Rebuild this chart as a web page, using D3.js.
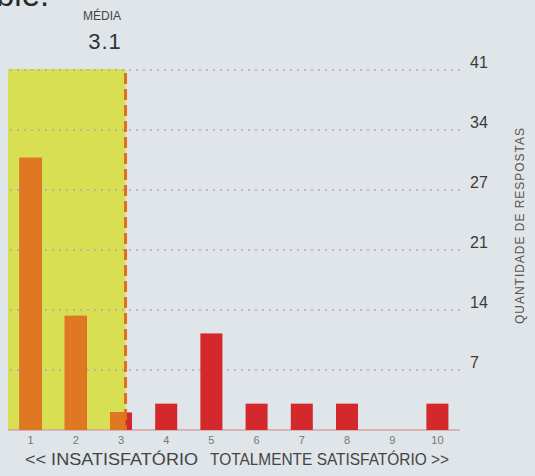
<!DOCTYPE html>
<html><head><meta charset="utf-8">
<script src="https://cdn.jsdelivr.net/npm/d3@7/dist/d3.min.js"></script>
<style>
html,body{margin:0;padding:0;background:#dfe5e8;}
svg{display:block;font-family:"Liberation Sans",Arial,sans-serif;}
</style></head>
<body><svg id="c" width="535" height="476"></svg>
<script>
const categories = ["1","2","3","4","5","6","7","8","9","10"];
const counts = [31,13,2,3,11,3,3,3,0,3];
const meanValue = 3.1;
const yMax = 41;
const yTickLabels = ["7","14","21","27","34","41"];
const meanTitle = "MÉDIA";
const yTitle = "QUANTIDADE DE RESPOSTAS";
const leftLabel = "<< INSATISFATÓRIO";
const rightLabel = "TOTALMENTE SATISFATÓRIO >>";

const svg = d3.select("#c");
const x = d3.scaleBand().domain(categories).range([8, 460]).paddingInner(0.513).paddingOuter(0.2565);
const y = d3.scaleLinear().domain([0, yMax]).range([430, 70]);
const step = x.step();
const c0 = x(categories[0]) + x.bandwidth()/2;
const meanX = c0 + (meanValue - 1) * step;

// cropped text from the page above
svg.append("text").attr("x", -4).attr("y", 6).attr("font-size", 33).attr("fill", "#2a2a2a").text("ble.");

// yellow zone
svg.append("rect").attr("x", 8).attr("y", y(yMax) - 1).attr("width", meanX - 8).attr("height", y(0) - y(yMax) + 1).attr("fill", "#d8df52");

// gridlines
const tickVals = yTickLabels.map((d, i) => yMax * (i + 1) / yTickLabels.length);
svg.append("g").selectAll("line").data(tickVals).join("line")
  .attr("x1", 10).attr("x2", 463).attr("y1", d => y(d)).attr("y2", d => y(d))
  .attr("stroke", "#bba8ac").attr("stroke-width", 1.6).attr("stroke-dasharray", "2,5");

// baseline
svg.append("line").attr("x1", 8).attr("x2", 460).attr("y1", y(0)).attr("y2", y(0)).attr("stroke", "#d7a3a6").attr("stroke-width", 1.5);

// bars
svg.append("defs").append("clipPath").attr("id", "lc").append("rect").attr("x", 0).attr("y", 0).attr("width", meanX).attr("height", 476);
const bars = categories.map((c, i) => ({c, v: counts[i]}));
svg.append("g").selectAll("rect").data(bars).join("rect")
  .attr("x", d => x(d.c)).attr("width", x.bandwidth())
  .attr("y", d => y(d.v)).attr("height", d => y(0) - y(d.v)).attr("fill", "#d3282c");
svg.append("g").attr("clip-path", "url(#lc)").selectAll("rect").data(bars).join("rect")
  .attr("x", d => x(d.c)).attr("width", x.bandwidth())
  .attr("y", d => y(d.v)).attr("height", d => y(0) - y(d.v)).attr("fill", "#e07722");

// mean line
svg.append("line").attr("x1", meanX).attr("x2", meanX).attr("y1", y(yMax) + 3).attr("y2", y(0))
  .attr("stroke", "#e0701e").attr("stroke-width", 3).attr("stroke-dasharray", "11,5");

// mean text
svg.append("text").attr("x", 102).attr("y", 20).attr("text-anchor", "middle").attr("font-size", 12).attr("fill", "#444").text(meanTitle);
svg.append("text").attr("x", 105).attr("y", 49).attr("text-anchor", "middle").attr("font-size", 22).attr("letter-spacing", 1).attr("fill", "#333").text(d3.format(".1f")(meanValue));

// y axis labels
const yAxis = d3.axisRight(y).tickValues(tickVals).tickSize(0).tickPadding(0).tickFormat((d, i) => yTickLabels[i]);
const gy = svg.append("g").attr("transform", "translate(470,-8)").call(yAxis);
gy.select(".domain").remove();
gy.selectAll("text").attr("font-size", 16).attr("fill", "#3a3a3a").attr("font-family", "Liberation Sans, Arial, sans-serif");

// y title
svg.append("text").attr("transform", "translate(524,226) rotate(-90)").attr("text-anchor", "middle")
  .attr("font-size", 12).attr("fill", "#555").attr("textLength", 196).attr("lengthAdjust", "spacing").text(yTitle);

// x axis
const xAxis = d3.axisBottom(x).tickSize(0).tickPadding(0);
const gx = svg.append("g").attr("transform", "translate(0,436)").call(xAxis);
gx.select(".domain").remove();
gx.selectAll("text").attr("font-size", 11).attr("fill", "#777").attr("dy", "0.71em").attr("font-family", "Liberation Sans, Arial, sans-serif");

// bottom labels
svg.append("text").attr("x", 25).attr("y", 465).attr("font-size", 17).attr("fill", "#444").attr("textLength", 173).attr("lengthAdjust", "spacingAndGlyphs").text(leftLabel);
svg.append("text").attr("x", 210).attr("y", 465).attr("font-size", 17).attr("fill", "#444").attr("textLength", 239).attr("lengthAdjust", "spacingAndGlyphs").text(rightLabel);
</script></body></html>
